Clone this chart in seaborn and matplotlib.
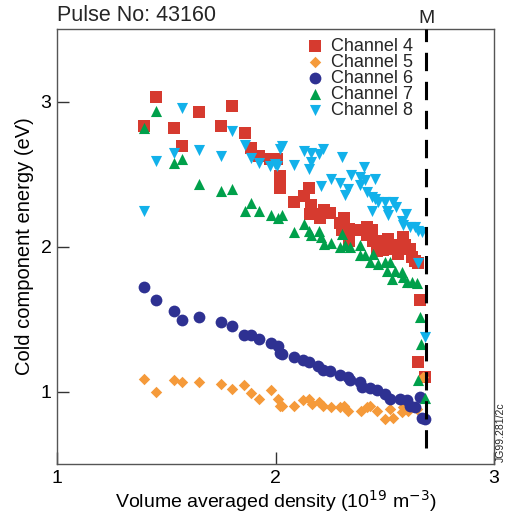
import numpy as np
import pandas as pd
import matplotlib
matplotlib.use("Agg")
import matplotlib.pyplot as plt
import seaborn as sns

# ---------------- data ----------------
ch4_x = [1.400, 1.452, 1.537, 1.571, 1.650, 1.749, 1.802, 1.860, 1.889, 1.924, 1.975, 2.005,
         2.021, 2.021, 2.085, 2.132, 2.153, 2.162, 2.158, 2.204, 2.222, 2.249, 2.204, 2.295,
         2.314, 2.303, 2.338, 2.336, 2.387, 2.417, 2.440, 2.417, 2.448, 2.463, 2.501, 2.516,
         2.493, 2.532, 2.555, 2.585, 2.593, 2.616, 2.562, 2.623, 2.638, 2.654, 2.661, 2.654, 2.684]
ch4_y = [2.828, 3.034, 2.816, 2.690, 2.926, 2.830, 2.972, 2.781, 2.681, 2.626, 2.602, 2.602,
         2.485, 2.402, 2.310, 2.347, 2.402, 2.285, 2.223, 2.226, 2.253, 2.232, 2.198, 2.161,
         2.198, 2.115, 2.119, 2.041, 2.117, 2.133, 2.117, 2.076, 2.041, 1.972, 2.041, 2.053,
         1.977, 1.984, 2.007, 2.064, 2.007, 1.984, 1.950, 1.926, 1.903, 1.885, 1.628, 1.202, 1.103]

ch5_x = [1.400, 1.452, 1.537, 1.571, 1.650, 1.749, 1.802, 1.857, 1.889, 1.924, 1.978, 2.010,
         2.021, 2.031, 2.085, 2.127, 2.153, 2.166, 2.200, 2.219, 2.253, 2.295, 2.314, 2.333,
         2.390, 2.417, 2.432, 2.463, 2.501, 2.524, 2.539, 2.577, 2.585, 2.608, 2.646, 2.677]
ch5_y = [1.088, 0.995, 1.081, 1.069, 1.069, 1.053, 1.019, 1.048, 0.988, 0.950, 1.012, 0.950,
         0.903, 0.897, 0.903, 0.938, 0.950, 0.915, 0.926, 0.903, 0.892, 0.892, 0.897, 0.869,
         0.869, 0.892, 0.903, 0.869, 0.812, 0.881, 0.819, 0.857, 0.892, 0.869, 0.881, 1.099]

ch6_x = [1.400, 1.452, 1.537, 1.571, 1.650, 1.749, 1.802, 1.857, 1.889, 1.924, 1.978, 2.010,
         2.021, 2.031, 2.085, 2.127, 2.153, 2.196, 2.219, 2.249, 2.295, 2.333, 2.341, 2.387,
         2.395, 2.432, 2.463, 2.501, 2.524, 2.570, 2.601, 2.616, 2.638, 2.661, 2.669, 2.684]
ch6_y = [1.719, 1.632, 1.554, 1.494, 1.517, 1.476, 1.453, 1.393, 1.393, 1.363, 1.333, 1.317,
         1.264, 1.260, 1.237, 1.219, 1.202, 1.179, 1.145, 1.138, 1.117, 1.099, 1.076, 1.064,
         1.030, 1.026, 1.007, 0.984, 0.950, 0.950, 0.938, 0.903, 0.892, 0.961, 0.819, 0.812]

ch7_x = [1.400, 1.452, 1.535, 1.571, 1.650, 1.749, 1.802, 1.860, 1.889, 1.924, 1.978, 2.010,
         2.028, 2.086, 2.132, 2.155, 2.162, 2.200, 2.208, 2.222, 2.253, 2.303, 2.295, 2.318,
         2.341, 2.387, 2.387, 2.410, 2.432, 2.448, 2.470, 2.501, 2.509, 2.524, 2.532, 2.547,
         2.577, 2.585, 2.601, 2.623, 2.646, 2.661, 2.664, 2.654, 2.684]
ch7_y = [2.816, 2.933, 2.574, 2.605, 2.428, 2.381, 2.398, 2.243, 2.299, 2.248, 2.214, 2.198,
         2.214, 2.099, 2.157, 2.110, 2.076, 2.110, 2.064, 2.019, 2.023, 2.088, 1.995, 2.007,
         1.995, 2.007, 1.938, 1.938, 1.892, 1.950, 1.880, 1.892, 1.834, 1.892, 1.777, 1.834,
         1.823, 1.788, 1.754, 1.754, 1.747, 1.512, 1.329, 1.081, 0.957]

ch8_x = [1.400, 1.452, 1.535, 1.571, 1.650, 1.749, 1.802, 1.860, 1.889, 1.924, 1.975, 2.005,
         2.021, 2.028, 1.998, 2.086, 2.132, 2.162, 2.200, 2.219, 2.161, 2.153, 2.303, 2.405,
         2.344, 2.253, 2.295, 2.208, 2.333, 2.318, 2.387, 2.410, 2.387, 2.455, 2.420, 2.440,
         2.455, 2.470, 2.501, 2.440, 2.509, 2.516, 2.536, 2.551, 2.597, 2.577, 2.585, 2.616,
         2.638, 2.654, 2.669, 2.654, 2.684]
ch8_y = [2.248, 2.593, 2.643, 2.954, 2.667, 2.621, 2.795, 2.697, 2.609, 2.574, 2.557, 2.557,
         2.674, 2.692, 2.570, 2.559, 2.662, 2.646, 2.639, 2.674, 2.582, 2.536, 2.616, 2.546,
         2.490, 2.467, 2.439, 2.414, 2.398, 2.357, 2.478, 2.460, 2.421, 2.467, 2.374, 2.340,
         2.329, 2.306, 2.306, 2.248, 2.248, 2.214, 2.306, 2.271, 2.225, 2.179, 2.145, 2.133,
         2.133, 2.110, 2.099, 1.885, 1.379]

channels = ["Channel 4", "Channel 5", "Channel 6", "Channel 7", "Channel 8"]
colors = ["#d63a2f", "#f59a3a", "#2e3192", "#00a04b", "#12b1ea"]
markers = ["s", "D", "o", "^", "v"]
sizes = [66, 34, 72, 64, 64]

x_ticks = [1, 2, 3]
y_ticks = [1, 2, 3]
m_density = 2.69

# ---------------- figure ----------------
sns.set_theme(style="white")
plt.rcParams["font.family"] = ["Liberation Sans", "DejaVu Sans"]

fig = plt.figure(figsize=(5.07, 5.17), dpi=100)
ax = fig.add_axes([0.1124, 0.1025, 0.862, 0.8414])

all_x = [ch4_x, ch5_x, ch6_x, ch7_x, ch8_x]
all_y = [ch4_y, ch5_y, ch6_y, ch7_y, ch8_y]
for name, xs, ys, c, m, s in zip(channels, all_x, all_y, colors, markers, sizes):
    df = pd.DataFrame({"x": xs, "y": ys})
    sns.scatterplot(data=df, x="x", y="y", ax=ax, color=c, marker=m, s=s,
                    linewidth=0, label=name, zorder=3)

ax.plot([m_density, m_density], [0.61, 3.5], color="black", lw=2.2,
        dashes=(6, 3.5), zorder=4, clip_on=False)
ax.text(m_density, 3.515, "M", ha="center", va="bottom", fontsize=14)

ax.set_xlim(1, 3)
ax.set_ylim(0.5, 3.5)
ax.set_xticks(x_ticks)
ax.set_yticks(y_ticks)
ax.set_xticklabels([str(t) for t in x_ticks], fontsize=14)
ax.set_yticklabels([str(t) for t in y_ticks], fontsize=14)
ax.tick_params(direction="in", length=8.5, width=1, color="#333333", pad=4,
               bottom=True, left=True, top=False, right=False,
               labelcolor="black")
for sp in ax.spines.values():
    sp.set_color("#555555")
    sp.set_linewidth(1.0)

ax.set_xlabel("Volume averaged density (10$^{19}$ m$^{-3}$)", fontsize=14,
              labelpad=1, color="black")
ax.set_ylabel("Cold component energy (eV)", fontsize=14.5, labelpad=5,
              color="black")

ax.text(0.0, 1.006, "Pulse No: 43160", transform=ax.transAxes, ha="left",
        va="bottom", fontsize=15.5)

leg = ax.legend(loc="upper left", bbox_to_anchor=(0.54, 1.005), frameon=False,
                fontsize=13, handletextpad=0.3, labelspacing=-0.05,
                borderaxespad=0.2, handlelength=1.2)

fig.text(0.988, 0.165, "JG99.281/2c", rotation=90, ha="center", va="center",
         fontsize=7.5)

fig.savefig("out.png", dpi=100)
